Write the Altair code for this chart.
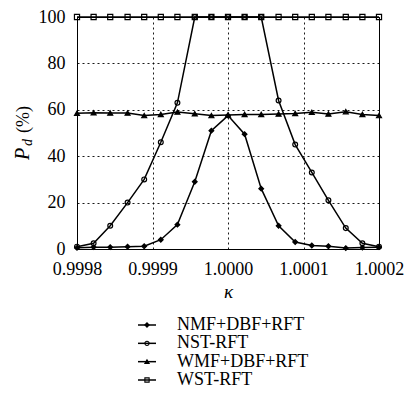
import altair as alt
import pandas as pd

kappa = [0.999800, 0.999822, 0.999844, 0.999867, 0.999889, 0.999911, 0.999933,
         0.999956, 0.999978, 1.000000, 1.000022, 1.000044, 1.000067, 1.000089,
         1.000111, 1.000133, 1.000156, 1.000178, 1.000200]
series_names = ["NMF+DBF+RFT", "NST-RFT", "WMF+DBF+RFT", "WST-RFT"]
nmf = [0.5, 0.8, 0.8, 1.0, 1.2, 4.0, 10.5, 29.0, 51.0, 57.5, 49.5, 26.0, 10.0, 3.0, 1.5, 1.2, 0.4, 0.6, 0.8]
nst = [1.0, 2.5, 10.0, 20.0, 30.0, 46.0, 63.0, 100, 100, 100, 100, 100, 64.0, 45.0, 33.0, 21.0, 9.0, 2.5, 1.0]
wmf = [58.5, 58.7, 58.6, 58.6, 57.5, 58.0, 59.0, 58.3, 57.5, 57.8, 58.0, 58.0, 58.2, 58.4, 58.9, 58.2, 59.2, 58.0, 57.5]
wst = [100, 100, 100, 100, 100, 100, 100, 100, 100, 100, 100, 100, 100, 100, 100, 100, 100, 100, 100]
x_ticks = [0.9998, 0.9999, 1.0000, 1.0001, 1.0002]
y_ticks = [0, 20, 40, 60, 80, 100]

shapes = ["diamond", "circle", "triangle-up", "square"]
fills = ["black", "transparent", "black", "transparent"]
sizes = [22, 26, 34, 28]

rows = []
for name, vals in zip(series_names, [nmf, nst, wmf, wst]):
    for k, v in zip(kappa, vals):
        rows.append({"kappa": k, "series": name, "value": v})
df = pd.DataFrame(rows)

FONT = "Liberation Serif"

x_enc = alt.X("kappa:Q",
              scale=alt.Scale(domain=[0.9998, 1.0002], nice=False, zero=False),
              axis=alt.Axis(values=x_ticks, format=".4f", title="κ",
                            titleFontStyle="italic", titleFontWeight="normal",
                            titleFontSize=19, titlePadding=4,
                            labelPadding=11, ticks=False,
                            labelFlush=False, labelOverlap=False))
y_enc = alt.Y("value:Q",
              scale=alt.Scale(domain=[0, 100], nice=False),
              axis=alt.Axis(values=y_ticks, title=None, labelPadding=12, ticks=False,
                            labelFlush=False, labelOverlap=False))

shape_scale = alt.Scale(domain=series_names, range=shapes)
fill_scale = alt.Scale(domain=series_names, range=fills)
size_scale = alt.Scale(domain=series_names, range=sizes)

lines = alt.Chart(df).mark_line(color="black", strokeWidth=1.5).encode(
    x=x_enc, y=y_enc, detail="series:N")
pts = alt.Chart(df).mark_point(stroke="black", strokeWidth=1.2, opacity=1).encode(
    x=x_enc, y=y_enc,
    shape=alt.Shape("series:N", scale=shape_scale, legend=None),
    fill=alt.Fill("series:N", scale=fill_scale, legend=None),
    size=alt.Size("series:N", scale=size_scale, legend=None))
main = alt.layer(lines, pts)

leg_df = pd.DataFrame({"series": series_names, "row": [0, 1, 2, 3]})
leg_y = alt.Y("row:Q", scale=alt.Scale(domain=[0, 3], range=[308, 363], nice=False, zero=False), axis=None)
leg_rule = alt.Chart(leg_df).mark_rule(color="black", strokeWidth=1.5).encode(
    x=alt.value(61), x2=alt.value(79), y=leg_y)
leg_pts = alt.Chart(leg_df).mark_point(stroke="black", strokeWidth=1.1, opacity=1).encode(
    x=alt.value(70), y=leg_y,
    shape=alt.Shape("series:N", scale=shape_scale, legend=None),
    fill=alt.Fill("series:N", scale=fill_scale, legend=None),
    size=alt.value(18))
leg_txt = alt.Chart(leg_df).mark_text(align="left", baseline="middle", font=FONT,
                                      fontSize=18, color="black").encode(
    x=alt.value(100), y=leg_y, text="series:N")

t_p = alt.Chart(pd.DataFrame({"t": ["P"]})).mark_text(
    angle=270, align="left", baseline="alphabetic", font=FONT, fontStyle="italic",
    fontSize=20, color="black").encode(x=alt.value(-48), y=alt.value(143), text="t:N")
t_d = alt.Chart(pd.DataFrame({"t": ["d"]})).mark_text(
    angle=270, align="left", baseline="alphabetic", font=FONT, fontStyle="italic",
    fontSize=14, color="black").encode(x=alt.value(-45), y=alt.value(129), text="t:N")
t_pc = alt.Chart(pd.DataFrame({"t": ["(%)"]})).mark_text(
    angle=270, align="left", baseline="alphabetic", font=FONT,
    fontSize=18, color="black").encode(x=alt.value(-48), y=alt.value(116), text="t:N")

legend = alt.layer(leg_rule, leg_pts, leg_txt, t_p, t_d, t_pc)

chart = alt.layer(main, legend).resolve_scale(y="independent").properties(
    width=302, height=232,
    background="white",
    autosize=alt.AutoSizeParams(type="none"),
    padding={"left": 69, "top": 9, "right": 28, "bottom": 140},
).configure_view(stroke="black", strokeWidth=1).configure_axis(
    labelFont=FONT, titleFont=FONT, labelFontSize=18, labelColor="black",
    titleColor="black", domainColor="black", domainWidth=1,
    gridColor="black", gridDash=[2, 3], gridWidth=1, gridOpacity=0.9,
)

chart.save("out.html", embed_options={"renderer": "svg", "actions": False})
